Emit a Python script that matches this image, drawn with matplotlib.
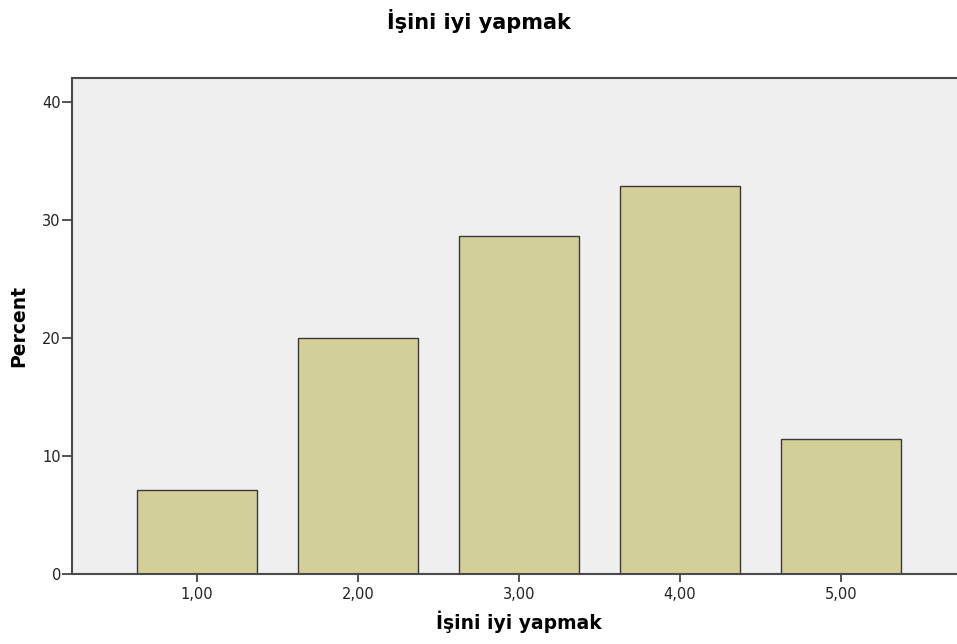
import matplotlib
matplotlib.use("Agg")
import matplotlib.pyplot as plt

categories = ["1,00", "2,00", "3,00", "4,00", "5,00"]
percent = [7.1, 20.0, 28.6, 32.9, 11.4]
y_ticks = [0, 10, 20, 30, 40]

plt.rcParams['font.family'] = ['DejaVu Sans']

fig = plt.figure(figsize=(9.57, 6.44), dpi=100)
ax = fig.add_axes([72 / 957, 70 / 644, 894 / 957, 496 / 644])
ax.set_facecolor('#efefef')

pos = list(range(1, len(categories) + 1))
ax.bar(pos, percent, width=0.745, color='#d3cf98', edgecolor='#3a3a3a', linewidth=1.0, zorder=2)

ax.set_xlim(0.224, 5.776)
ax.set_ylim(0, 42.03)
ax.set_xticks(pos)
ax.set_xticklabels(categories)
ax.set_yticks(y_ticks)
ax.tick_params(axis='both', direction='out', width=1.3, color='#444444',
               labelsize=10.5, labelcolor='#222222')
ax.tick_params(axis='y', length=7, pad=1)
ax.tick_params(axis='x', length=6, pad=3.5)

for s in ['left', 'bottom', 'top', 'right']:
    ax.spines[s].set_color('#4a4a4a')
    ax.spines[s].set_linewidth(1.5)

ax.set_ylabel('Percent', fontsize=13.5, fontweight='bold', labelpad=10)
ax.set_xlabel('İşini iyi yapmak', fontsize=13.5, fontweight='bold', labelpad=6)
fig.text(0.5, 1 - 21 / 644, 'İşini iyi yapmak', ha='center', va='center',
         fontsize=15, fontweight='bold')

fig.savefig('out.png', dpi=100)
